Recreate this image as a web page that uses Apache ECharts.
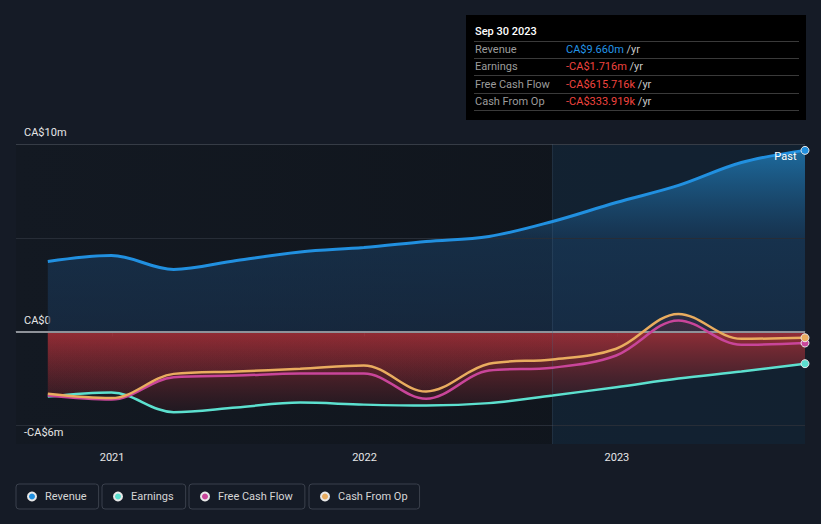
<!DOCTYPE html>
<html><head><meta charset="utf-8">
<script src="https://cdn.jsdelivr.net/npm/echarts@6/dist/echarts.min.js"></script>
<style>html,body{margin:0;padding:0;background:#151b26;}#c{width:821px;height:524px;}</style>
</head><body><div id="c"></div>
<script>
// ---- data (CA$ millions, trailing twelve months) ----
const dates    = ['2020-09-30','2020-12-31','2021-03-31','2021-06-30','2021-09-30','2021-12-31','2022-03-31','2022-06-30','2022-09-30','2022-12-31','2023-03-31','2023-06-30','2023-09-30'];
const revenue  = [3.73, 4.05, 3.31, 3.79, 4.24, 4.48, 4.80, 5.07, 5.87, 6.88, 7.79, 9.01, 9.660];
const earnings = [-3.47, -3.25, -4.30, -4.05, -3.79, -3.90, -3.95, -3.82, -3.41, -2.97, -2.51, -2.13, -1.716];
const fcf      = [-3.41, -3.63, -2.44, -2.35, -2.24, -2.24, -3.59, -2.08, -1.93, -1.28, 0.59, -0.71, -0.615716];
const cfo      = [-3.32, -3.55, -2.26, -2.13, -1.99, -1.81, -3.20, -1.72, -1.49, -0.92, 0.94, -0.39, -0.333919];
const seriesNames = ['Revenue', 'Earnings', 'Free Cash Flow', 'Cash From Op'];
const yearTicks = ['2021-01-01', '2022-01-01', '2023-01-01'];
const yLabelValues = [-6, 0, 10];
const gridValues = [-5, 5, 10];
const pastStart = '2022-09-30';
const axisStart = '2020-08-15';

const FONT = 'Roboto, "Noto Sans", sans-serif';
const toTs = d => Date.UTC(+d.slice(0,4), +d.slice(5,7)-1, +d.slice(8,10));
const ts = dates.map(toTs);
const last = dates.length - 1;
const pts = arr => arr.map((v, i) => [ts[i], v]);
const colors = ['#2190e0', '#5ce0cf', '#c9459a', '#e9ac5f'];
const G = echarts.graphic.LinearGradient;
const SMOOTH = 0.35;

function fmtMoney(v) {
  const s = v < 0 ? '-' : '';
  const a = Math.abs(v);
  return a >= 1 ? s + 'CA$' + a.toFixed(3) + 'm' : s + 'CA$' + (a * 1000).toFixed(3) + 'k';
}
function fmtDate(d) {
  const m = ['Jan','Feb','Mar','Apr','May','Jun','Jul','Aug','Sep','Oct','Nov','Dec'];
  return m[+d.slice(5,7)-1] + ' ' + (+d.slice(8,10)) + ' ' + d.slice(0,4);
}

const allData = [revenue, earnings, fcf, cfo];

function areaS(data, color, z) {
  return { type:'line', data: pts(data), smooth:SMOOTH, symbol:'none',
    lineStyle:{width:0, opacity:0}, areaStyle:{color, origin:'auto', opacity:1}, z, silent:true };
}
function lineS(i, width) {
  const data = pts(allData[i]).map((p, k) => {
    if (k === last && i === 0) {
      return { value:p, label:{ show:true, formatter:'Past', position:'left', distance:4, offset:[0,6],
        color:'#ffffff', fontSize:11, fontFamily:FONT } };
    }
    return p;
  });
  return { type:'line', name: seriesNames[i], data, smooth:SMOOTH,
    symbol:'circle', showAllSymbol:true,
    symbolSize:(v, p) => p.dataIndex === last ? 8 : 0,
    itemStyle:{color: colors[i], borderColor:'#e8e8e8', borderWidth:1},
    lineStyle:{width, color: colors[i]}, z:6, silent:true };
}

const redTop = new G(0,0,0,1,[{offset:0,color:'rgba(165,48,56,0.85)'},{offset:1,color:'rgba(40,25,33,0.6)'}]);
const redThin = new G(0,0,0,1,[{offset:0,color:'rgba(170,45,55,0.14)'},{offset:1,color:'rgba(120,35,45,0.04)'}]);

const series = [
  areaS(revenue, new G(0,0,0,1,[{offset:0,color:'rgba(32,125,185,0.8)'},{offset:0.5,color:'rgba(25,60,95,0.6)'},{offset:1,color:'rgba(25,50,80,0.6)'}]), 2),
  areaS(earnings, redTop, 2),
  areaS(fcf, redThin, 2),
  areaS(cfo, redThin, 2),
  { type:'line', data:[[ts[0], 0]], symbol:'none', lineStyle:{width:0}, z:3, silent:true,
    markArea:{ silent:true, itemStyle:{color:'rgba(22,48,75,0.45)'},
      data:[[{xAxis: toTs(pastStart)}, {xAxis: ts[last]}]] } },
  { type:'line', data:[[ts[0], 0]], symbol:'none', lineStyle:{width:0}, z:4, silent:true,
    markLine:{ silent:true, symbol:['none','none'], label:{show:false}, animation:false,
      data: gridValues.map(v => ({yAxis:v, lineStyle:{color: v === 10 ? '#363c46' : '#272d37', width:1, type:'solid'}}))
        .concat([{yAxis:0, lineStyle:{color:'#8e9299', width:2, type:'solid'}},
                 {xAxis: toTs(pastStart), lineStyle:{color:'rgba(70,100,130,0.3)', width:1, type:'solid'}}]) } },
  lineS(1, 2.5), lineS(2, 2.5), lineS(3, 2.5), lineS(0, 3)
];

const legendLefts = [16, 102, 189, 309];
const legend = seriesNames.map((n, i) => ({
  data:[n], left: legendLefts[i], top: 484, orient:'horizontal',
  padding:[7, 12, 7, 11], itemWidth:8, itemHeight:8, icon:'circle', itemGap:0,
  borderColor:'#3a404c', borderWidth:1, borderRadius:3, selectedMode:false,
  textStyle:{color:'#d6d6d6', fontSize:11, fontFamily:FONT, padding:[0,0,0,4]}
}));

// tooltip-like box
const rows = [
  ['Revenue', revenue[last], '#2394e6'],
  ['Earnings', earnings[last], '#f0443f'],
  ['Free Cash Flow', fcf[last], '#f0443f'],
  ['Cash From Op', cfo[last], '#f0443f']
];
const rowCenters = [50, 67, 85, 102];
const sepY = [41.5, 58.5, 75.5, 93.5, 110.5];
const graphic = [
  {type:'rect', left:466, top:15, shape:{width:340, height:105}, style:{fill:'#000000'}, silent:true},
  {type:'text', left:475, top:26, style:{text: fmtDate(dates[last]), fill:'#ffffff', fontSize:11, fontWeight:500, fontFamily:FONT}, silent:true}
].concat(sepY.map(y => ({type:'line', shape:{x1:474, y1:y, x2:799, y2:y}, style:{stroke:'#3a3a3a', lineWidth:1}, silent:true})))
 .concat(rows.map((r, i) => ({type:'text', left:475, top: rowCenters[i]-6.5, style:{text:r[0], fill:'#9c9c9c', fontSize:11, fontFamily:FONT}, silent:true})))
 .concat(rows.map((r, i) => ({type:'text', left:566, top: rowCenters[i]-6.5,
    style:{text:'{v|' + fmtMoney(r[1]) + '} {u|/yr}', fontSize:11, fontFamily:FONT,
      rich:{v:{fill:r[2], fontSize:11, fontFamily:FONT}, u:{fill:'#c8c8c8', fontSize:11, fontFamily:FONT}}}, silent:true})));

const option = {
  backgroundColor:'#151b26',
  animation:false,
  textStyle:{fontFamily:FONT},
  grid:{left:16, right:16, top:144, bottom:80, show:true, borderWidth:0,
    backgroundColor: new G(0,0,1,0,[{offset:0,color:'#131922'},{offset:1,color:'#0f141b'}])},
  xAxis:{ type:'value', min: toTs(axisStart), max: ts[last],
    axisLine:{show:true, lineStyle:{color:'#4b515b', width:1}},
    axisTick:{show:true, customValues: yearTicks.map(toTs), length:5, lineStyle:{color:'#4b515b'}},
    axisLabel:{customValues: yearTicks.map(toTs), formatter: v => String(new Date(v).getUTCFullYear()),
      color:'#e6e6e6', fontSize:11, margin:8, fontFamily:FONT},
    splitLine:{show:false} },
  yAxis:{ type:'value', min:-6, max:10,
    axisLine:{show:false}, axisTick:{show:false}, splitLine:{show:false},
    axisLabel:{ customValues: yLabelValues, inside:true, margin:8, verticalAlign:'bottom', padding:[0,0,6,0],
      color:'#e6e6e6', fontSize:11, fontFamily:FONT,
      formatter: v => v === 0 ? 'CA$0' : (v < 0 ? '-CA$' + (-v) + 'm' : 'CA$' + v + 'm') } },
  legend,
  graphic,
  series
};
const chart = echarts.init(document.getElementById('c'), null, {renderer:'svg', width:821, height:524});
chart.setOption(option);
</script></body></html>
